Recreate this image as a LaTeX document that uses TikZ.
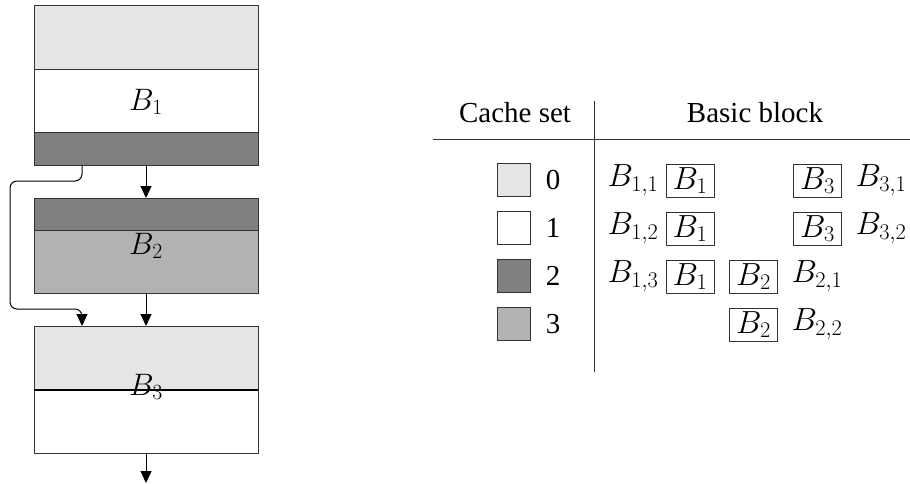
\RequirePackage{fix-cm}
\documentclass[tikz,border=0pt]{standalone}
\usepackage[no-math]{fontspec}
\setmainfont{Liberation Serif}
\newfontfamily\headfont{Liberation Serif}
\usetikzlibrary{arrows.meta}
\definecolor{set0}{gray}{0.90}
\definecolor{set1}{gray}{1.00}
\definecolor{set2}{gray}{0.50}
\definecolor{set3}{gray}{0.70}
\begin{document}
\begin{tikzpicture}[x=1pt,y=-1pt,
  seg/.style={draw=black!80, line width=1pt, minimum width=224pt, inner sep=0pt,
    outer sep=0pt, anchor=north west},
  lbl/.style={inner sep=0pt, font=\fontsize{31}{35}\selectfont},
  tlbl/.style={inner sep=0pt, font=\fontsize{32}{36}\selectfont},
  txt/.style={inner sep=0pt, font=\headfont\fontsize{29}{33}\selectfont},
  swatch/.style={draw=black!80, line width=0.9pt, minimum size=33pt, inner sep=0pt},
  bbox/.style={draw=black!80, line width=0.9pt, minimum width=48pt, minimum height=33pt,
    inner sep=0pt, font=\fontsize{32}{36}\selectfont},
  flow/.style={line width=1pt, -{Triangle[width=11pt,length=12pt]}},
  rule/.style={line width=1pt, draw=black!80}]
\useasboundingbox (0,0) rectangle (910,484);

% ---- basic block B1 ----
\node[seg, fill=set0, minimum height=64pt] (b1a) at (34,6) {};
\node[seg, fill=set1, minimum height=63pt] (b1b) at (34,70) {};
\node[seg, fill=set2, minimum height=32pt] (b1c) at (34,133) {};
\node[lbl] (l1) at (146,102) {$B_1$};

% ---- basic block B2 ----
\node[seg, fill=set2, minimum height=32pt] (b2a) at (34,198) {};
\node[seg, fill=set3, minimum height=63pt] (b2b) at (34,230) {};
\node[lbl] (l2) at (146,246) {$B_2$};

% ---- basic block B3 ----
\node[seg, fill=set0, minimum height=64pt] (b3a) at (34,326) {};
\node[seg, fill=set1, minimum height=63pt] (b3b) at (34,390) {};
\draw[line width=1.6pt] (b3a.south west) -- (b3a.south east);
\node[lbl] (l3) at (146,387) {$B_3$};

% ---- control flow ----
\coordinate (exit) at (146,483);
\draw[flow] (b1c.south) -- (b2a.north);
\draw[flow] (b2b.south) -- (b3a.north);
\draw[flow] (b3b.south) -- (exit);
\draw[flow, rounded corners=7pt] ([xshift=48pt]b1c.south west) |- (10,181) |- (82,309)
  -- ([xshift=48pt]b3a.north west);

% ---- table ----
\node[txt] (hcs) at (515,113) {Cache set};
\node[txt] (hbb) at (755,113) {Basic block};
\coordinate (vt) at (594,101);
\coordinate (vb) at (594,372);
\coordinate (hl) at (433,140);
\coordinate (hr) at (910,140);
\draw[rule] (vt) -- (vb);
\draw[rule] (hl) -- (hr);

\node[swatch, fill=set0] (s0) at (513.5,180) {};
\node[swatch, fill=set1] (s1) at (513.5,228) {};
\node[swatch, fill=set2] (s2) at (513.5,276) {};
\node[swatch, fill=set3] (s3) at (513.5,324) {};
\node[txt] (n0) at (553,180) {0};
\node[txt] (n1) at (553,228) {1};
\node[txt] (n2) at (553,276) {2};
\node[txt] (n3) at (553,324) {3};

% set 0
\node[tlbl] (e11) at (633,180) {$B_{1,1}$};
\node[bbox] (r0b1) at (690,180.5) {$B_1$};
\node[bbox] (r0b3) at (817.5,180.5) {$B_3$};
\node[tlbl] (e31) at (881,180) {$B_{3,1}$};
% set 1
\node[tlbl] (e12) at (633,228) {$B_{1,2}$};
\node[bbox] (r1b1) at (690,228.5) {$B_1$};
\node[bbox] (r1b3) at (817.5,228.5) {$B_3$};
\node[tlbl] (e32) at (881,228) {$B_{3,2}$};
% set 2
\node[tlbl] (e13) at (633,276) {$B_{1,3}$};
\node[bbox] (r2b1) at (690,276.5) {$B_1$};
\node[bbox] (r2b2) at (753.5,276.5) {$B_2$};
\node[tlbl] (e21) at (817,276) {$B_{2,1}$};
% set 3
\node[bbox] (r3b2) at (753.5,324.5) {$B_2$};
\node[tlbl] (e22) at (817,324) {$B_{2,2}$};
\end{tikzpicture}
\end{document}
